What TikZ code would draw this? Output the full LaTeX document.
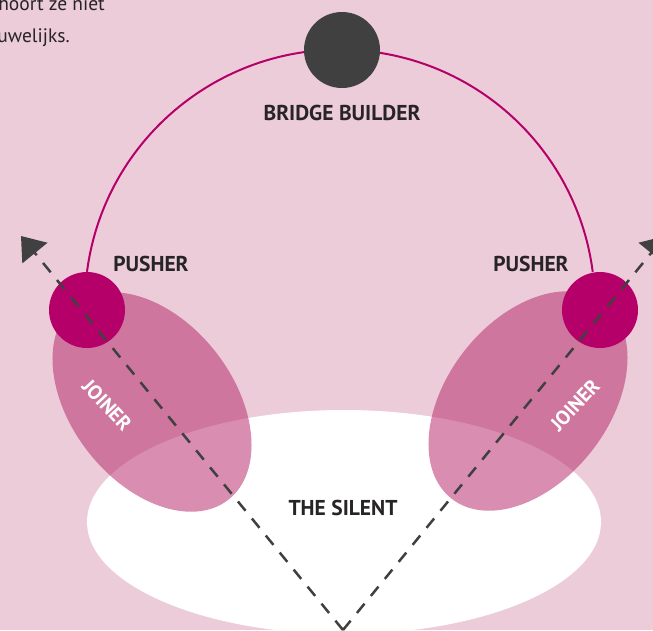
\documentclass[tikz,border=0pt]{standalone}
\usepackage{fontspec}
\setmainfont{PT Sans}
\usepackage{tikz}
\usetikzlibrary{arrows.meta, positioning}
\definecolor{roleback}{RGB}{237,204,217}
\definecolor{rolemagenta}{RGB}{181,0,106}
\definecolor{roledark}{RGB}{64,64,64}
\definecolor{rolejoin}{RGB}{184,49,113}
\definecolor{roletext}{RGB}{38,36,36}
\tikzset{
x=1pt, y=-1pt, % pixel-like units, y grows downwards
pusher/.style={circle, fill=rolemagenta, minimum size=76pt, inner sep=0pt}, % the two pushers
builder/.style={circle, fill=roledark, minimum size=76pt, inner sep=0pt}, % the bridge builder
joiner/.style={fill=rolejoin, fill opacity=0.55}, % the see-through joiner ovals
role/.style={font=\fontsize{21.5}{24}\selectfont\bfseries, text=roletext}, % role labels
joinlabel/.style={font=\fontsize{20}{22}\selectfont\bfseries, text=white, inner sep=1pt}, % labels inside the ovals
intro/.style={font=\fontsize{19.5}{22}\selectfont, text=roletext, inner sep=0pt, anchor=base east}, % cut-off text top left
bridge/.style={rolemagenta, line width=2pt}, % arc over the top
axis/.style={roledark, line width=2.5pt, dash pattern=on 12pt off 10pt, -{Triangle[length=22pt, width=32pt]}}, % dashed arrows
}

\begin{document}
\begin{tikzpicture}
    \useasboundingbox (0,0) rectangle (653,630);
    \clip (0,0) rectangle (653,630);
    \fill[roleback] (0,0) rectangle (653,630);

    % text running in from the left
    \node[intro] (introa) at (105,10) {hoort ze niet};
    \node[intro] (introb) at (70,42) {uwelijks.};

    % the silent and the joiners
    \fill[white] (344,522) ellipse[x radius=257, y radius=112];
    \fill[joiner, rotate around={-52:(152,402)}] (152,402) ellipse[x radius=124, y radius=81];
    \fill[joiner, rotate around={52:(528,401)}] (528,401) ellipse[x radius=124, y radius=81];

    % pushers and bridge builder
    \node[pusher] (pushL) at (87,310) {};
    \node[pusher] (pushR) at (600,310) {};
    \draw[bridge] (pushL.north) arc[start angle=-172.6, end angle=-7.4, radius=255];
    \node[builder] (builder) at (342,50) {};

    % labels
    \node[role] (builderlbl) at (342,113) {BRIDGE BUILDER};
    \node[role] (pushLlbl) at (151,264) {PUSHER};
    \node[role] (pushRlbl) at (531,264) {PUSHER};
    \node[role] (silent) at (343,508) {THE SILENT};
    \node[joinlabel, rotate=-47] (joinL) at (107,405) {JOINER};
    \node[joinlabel, rotate=47] (joinR) at (575,405) {JOINER};

    % dashed arrows out of the apex
    \coordinate (apex) at (343,630);
    \coordinate (tipL) at (21,236);
    \coordinate (tipR) at (665,236);
    \draw[axis] (apex) -- (tipL);
    \draw[axis] (apex) -- (tipR);
\end{tikzpicture}
\end{document}
